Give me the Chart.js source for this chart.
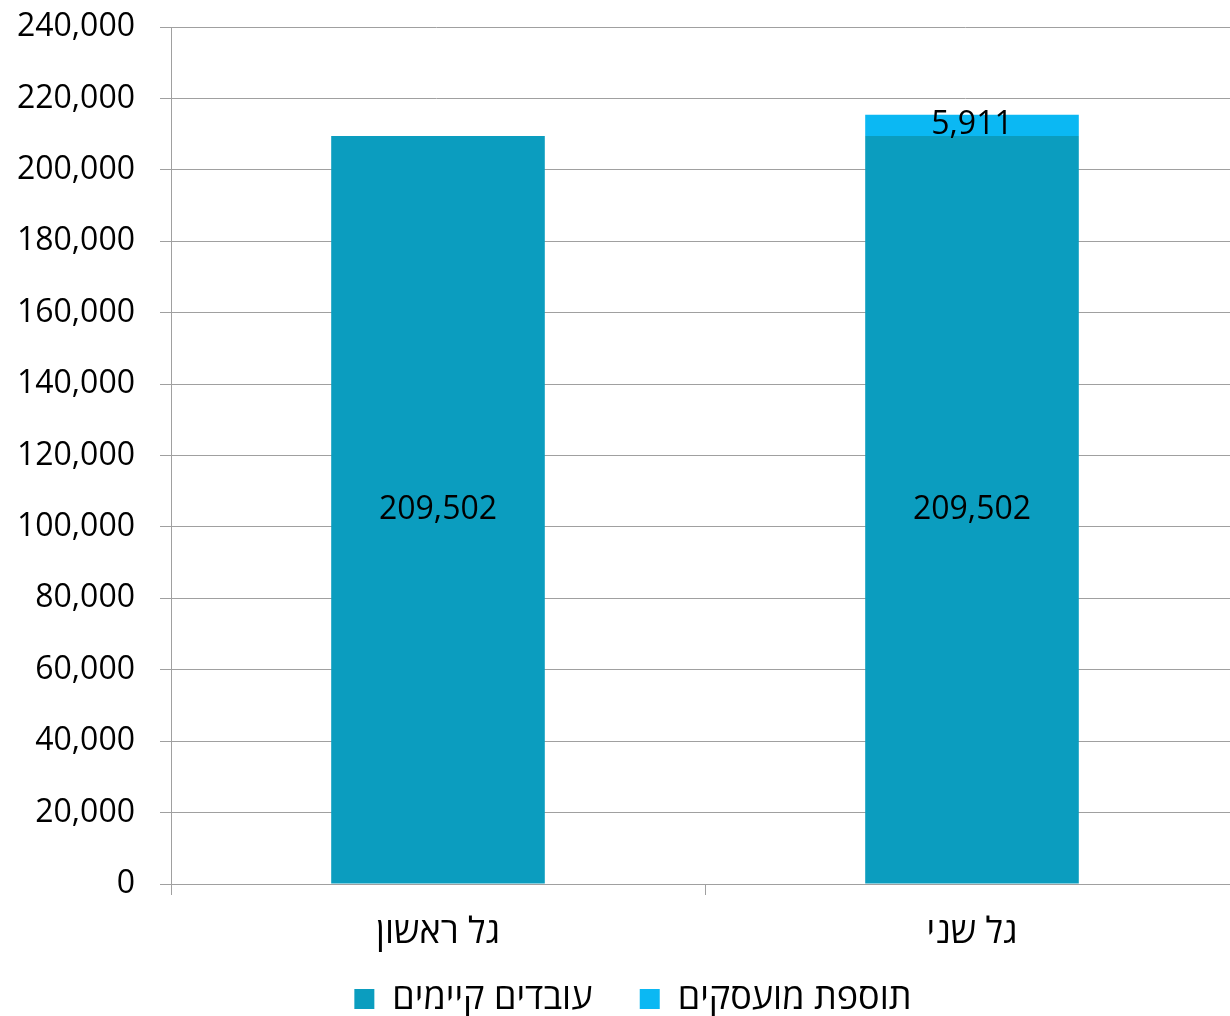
<!DOCTYPE html>
<html>
<head>
<meta charset="utf-8">
<script src="https://cdn.jsdelivr.net/npm/chart.js@4"></script>
<style>
  html, body { margin: 0; padding: 0; background: #fff; }
  #wrap { width: 1230px; height: 1016px; }
</style>
</head>
<body>
<div id="wrap"><canvas id="chart" width="1230" height="1016"></canvas></div>
<script>
const categories = ['גל ראשון', 'גל שני'];
const existingWorkers = [209502, 209502];
const addedEmployees = [null, 5911];
const seriesNames = ['עובדים קיימים', 'תוספת מועסקים'];

const FONT = "'Open Sans', 'DejaVu Sans', sans-serif";
const GRID = '#A0A0A0';

// draws the value in the middle of every bar segment
const barLabels = {
    id: 'barLabels',
    afterDatasetsDraw(chart) {
        const ctx = chart.ctx;
        ctx.save();
        ctx.font = '32px ' + FONT;
        ctx.fillStyle = '#000';
        ctx.textAlign = 'center';
        ctx.textBaseline = 'middle';
        chart.data.datasets.forEach((ds, i) => {
            chart.getDatasetMeta(i).data.forEach((bar, j) => {
                const v = ds.data[j];
                if (v === null || v === undefined) return;
                ctx.fillText(v.toLocaleString('en-US'), bar.x, (bar.y + bar.base) / 2);
            });
        });
        ctx.restore();
    }
};

// the plot area in the original runs a little past the right edge,
// and the legend sits a bit right of centre
const tweakLayout = {
    id: 'tweakLayout',
    afterLayout(chart) {
        const x = chart.scales.x;
        x.right += 9;
        x.width += 9;
        x.configure();
        chart.legend.left += 36;
    }
};

new Chart(document.getElementById('chart'), {
    type: 'bar',
    data: {
        labels: categories,
        datasets: [{
            label: seriesNames[0],
            data: existingWorkers,
            backgroundColor: '#0B9DBF'
        }, {
            label: seriesNames[1],
            data: addedEmployees,
            backgroundColor: '#0BB8F3'
        }]
    },
    options: {
        responsive: false,
        animation: false,
        layout: { padding: { top: 27, right: 0, left: 0, bottom: -11 } },
        datasets: { bar: { categoryPercentage: 1, barPercentage: 0.4 } },
        scales: {
            x: {
                stacked: true,
                border: { color: GRID },
                grid: { offset: true, drawOnChartArea: false, color: GRID, tickLength: 11 },
                ticks: { color: '#000', font: { family: FONT, size: 36 }, padding: 16 },
                afterFit(scale) { scale.height = 87; }
            },
            y: {
                stacked: true,
                min: 0,
                max: 240000,
                border: { color: GRID },
                grid: { color: GRID, tickLength: 11 },
                ticks: {
                    stepSize: 20000,
                    color: '#000',
                    padding: 25,
                    font: { family: FONT, size: 32 },
                    callback: v => v.toLocaleString('en-US')
                },
                afterFit(scale) {
                    scale.width = 171;
                    scale.paddingTop = 0;
                    scale.paddingBottom = 0;
                }
            }
        },
        plugins: {
            legend: {
                position: 'bottom',
                labels: {
                    color: '#000',
                    font: { family: FONT, size: 36 },
                    boxWidth: 20,
                    boxHeight: 20,
                    padding: 10,
                    generateLabels(chart) {
                        const items = Chart.defaults.plugins.legend.labels.generateLabels(chart);
                        // wider gap between the two legend entries
                        items.forEach((it, i) => { if (i < items.length - 1) it.text += '    '; });
                        return items;
                    }
                }
            },
            tooltip: { enabled: false }
        }
    },
    plugins: [barLabels, tweakLayout]
});
</script>
</body>
</html>
